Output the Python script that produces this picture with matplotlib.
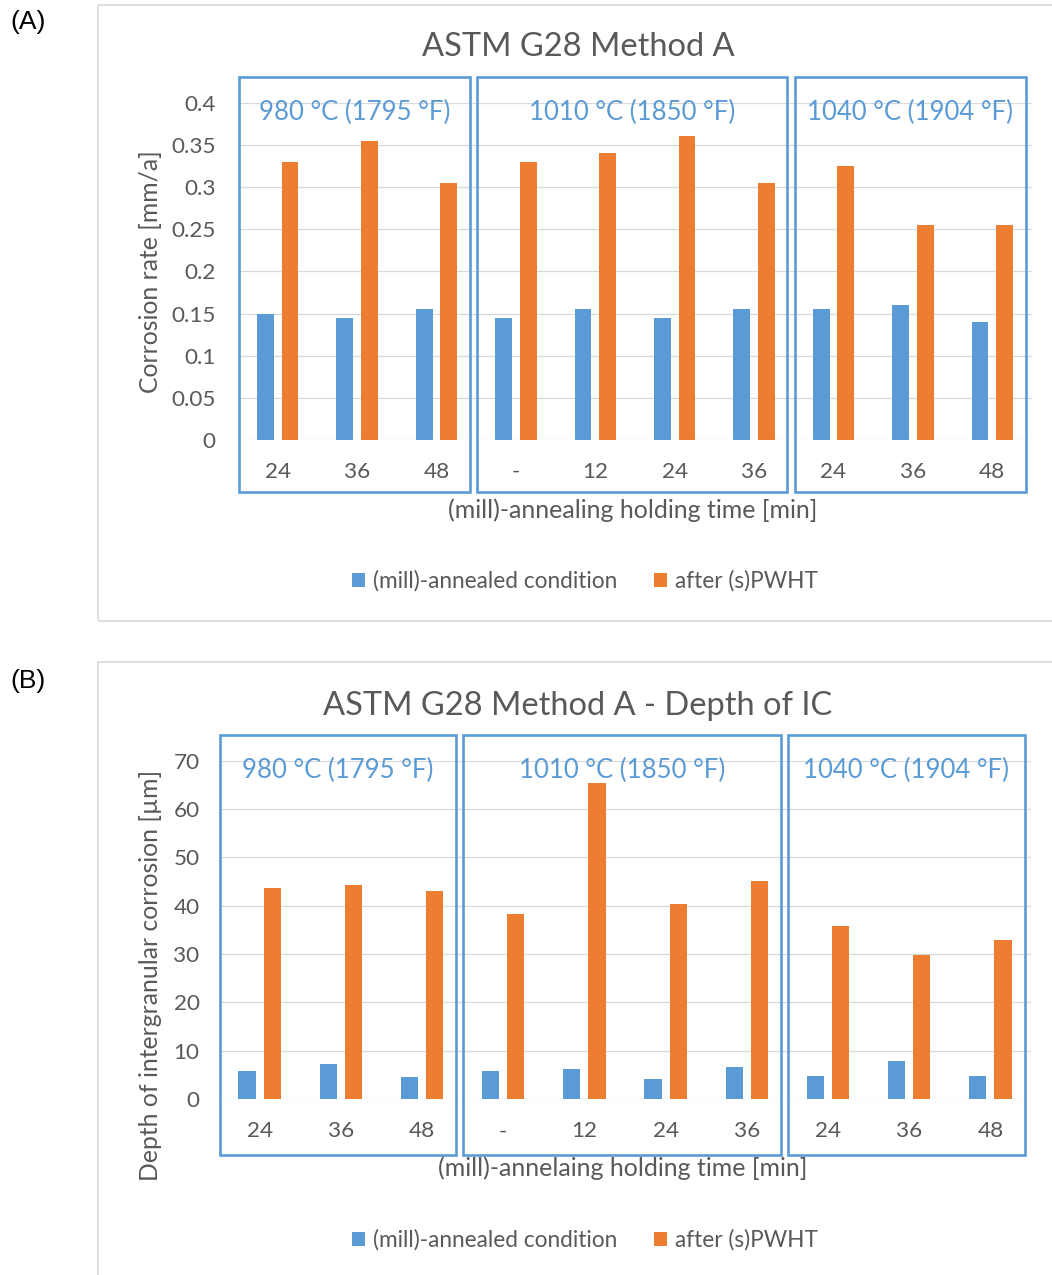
import matplotlib
matplotlib.use("Agg")
import matplotlib.pyplot as plt
from matplotlib.patches import Rectangle
from matplotlib.transforms import blended_transform_factory
import numpy as np

W, H, DPI = 1052, 1275, 100

# holding times per annealing temperature
times = ["24", "36", "48", "-", "12", "24", "36", "24", "36", "48"]
temps = ["980 °C (1795 °F)", "1010 °C (1850 °F)", "1040 °C (1904 °F)"]
temp_sizes = [3, 4, 3]

# corrosion rate [mm/a]
rate_annealed = [0.150, 0.145, 0.155, 0.145, 0.155, 0.145, 0.155, 0.155, 0.160, 0.140]
rate_pwht = [0.330, 0.355, 0.305, 0.330, 0.340, 0.360, 0.305, 0.325, 0.255, 0.255]

# depth of intergranular corrosion [um]
depth_annealed = [5.7, 7.2, 4.5, 5.7, 6.3, 4.2, 6.6, 4.8, 7.8, 4.8]
depth_pwht = [43.7, 44.3, 43.1, 38.3, 65.4, 40.4, 45.2, 35.7, 29.7, 32.8]

BLUE, ORANGE = "#5B9BD5", "#ED7D31"
GREY_TXT, GRID = "#595959", "#D9D9D9"
FONT = "Lato"

plt.rcParams["font.family"] = [FONT, "DejaVu Sans"]

fig = plt.figure(figsize=(W / DPI, H / DPI), dpi=DPI)


def fx(px):
    return px / W


def fy(py):
    return 1 - py / H


def px_axes(left, top, right, bottom):
    return fig.add_axes([fx(left), fy(bottom), (right - left) / W, (bottom - top) / H])


def chart_frame(left, top, right, bottom):
    fig.patches.append(Rectangle((fx(left), fy(bottom)), fx(right - left), (bottom - top) / H,
                                 transform=fig.transFigure, fill=False, edgecolor=GRID, lw=1.2))


def panel(ax, annealed, pwht, ymax, ystep, yfmt, ypad, xpad, box_lo, box_hi):
    x = np.arange(len(times))
    w, off = 0.21, 0.155
    ax.bar(x - off, annealed, w, color=BLUE, label="(mill)-annealed condition", zorder=3)
    ax.bar(x + off, pwht, w, color=ORANGE, label="after (s)PWHT", zorder=3)
    ax.set_xlim(-0.5, len(times) - 0.5)
    ax.set_ylim(0, ymax)
    ticks = np.arange(0, ymax + ystep / 2, ystep)
    ax.set_yticks(ticks)
    ax.set_yticklabels([yfmt(t) for t in ticks])
    ax.set_xticks(x)
    ax.set_xticklabels(times)
    ax.tick_params(length=0, labelsize=16.2, labelcolor=GREY_TXT)
    ax.tick_params(axis="y", pad=ypad)
    ax.tick_params(axis="x", pad=xpad)
    ax.grid(axis="y", color=GRID, lw=0.9, zorder=0)
    for s in ax.spines.values():
        s.set_visible(False)

    # boxes grouping the holding times per temperature
    tr = blended_transform_factory(ax.transData, ax.transAxes)
    start = 0
    for name, n in zip(temps, temp_sizes):
        lo, hi = start - 0.5 + 0.01, start + n - 0.5 - 0.08
        ax.add_patch(Rectangle((lo, box_lo), hi - lo, box_hi - box_lo, transform=tr,
                               fill=False, edgecolor=BLUE, lw=1.9, clip_on=False, zorder=4))
        ax.text((lo + hi) / 2, 0.97, name, transform=tr, ha="center", va="center",
                fontsize=18.5, color=BLUE, zorder=5)
        start += n


def legend(ax, y):
    ax.legend(loc="center", bbox_to_anchor=(fx(585), fy(y)), bbox_transform=fig.transFigure,
              ncol=2, frameon=False, handlelength=0.6, handleheight=0.6, handletextpad=0.35,
              columnspacing=1.6, fontsize=16.3, labelcolor=GREY_TXT)


# (A) corrosion rate
chart_frame(98, 5, 1060, 621)
axA = px_axes(238, 102.7, 1032, 440)
panel(axA, rate_annealed, rate_pwht, 0.4, 0.05, lambda t: "0" if t == 0 else f"{t:g}",
      16, 15.5, -0.154, 1.076)
fig.text(fx(578), fy(47), "ASTM G28 Method A", ha="center", va="center", fontsize=23.5, color=GREY_TXT)
fig.text(fx(150), fy(272), "Corrosion rate [mm/a]", ha="center", va="center", rotation=90,
         fontsize=17.8, color=GREY_TXT)
fig.text(fx(633), fy(510), "(mill)-annealing holding time [min]", ha="center", va="center",
         fontsize=18, color=GREY_TXT)
legend(axA, 581)

# (B) depth of intergranular corrosion
chart_frame(98, 662, 1060, 1290)
axB = px_axes(219, 760.7, 1031, 1099)
panel(axB, depth_annealed, depth_pwht, 70, 10, lambda t: f"{t:.0f}",
      14, 16, -0.166, 1.076)
fig.text(fx(578), fy(706), "ASTM G28 Method A - Depth of IC", ha="center", va="center",
         fontsize=23.5, color=GREY_TXT)
fig.text(fx(150), fy(975), "Depth of intergranular corrosion [µm]", ha="center", va="center",
         rotation=90, fontsize=17.8, color=GREY_TXT)
fig.text(fx(623), fy(1168), "(mill)-annelaing holding time [min]", ha="center", va="center",
         fontsize=18, color=GREY_TXT)
legend(axB, 1240)

fig.text(fx(10), fy(22), "(A)", ha="left", va="center", fontsize=19, family="Liberation Sans")
fig.text(fx(10), fy(681), "(B)", ha="left", va="center", fontsize=19, family="Liberation Sans")

fig.savefig("out.png", dpi=DPI)
